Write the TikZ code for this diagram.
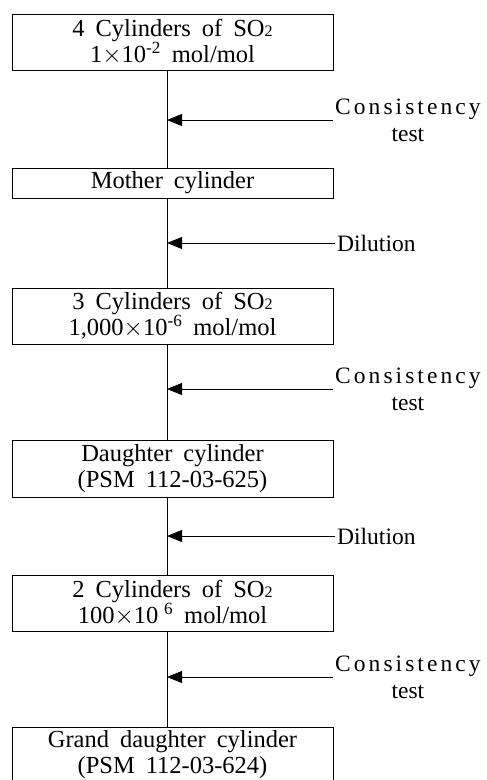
\documentclass[tikz,border=0pt]{standalone}
\usepackage{fontspec}
\setmainfont{Liberation Serif}[WordSpace=1.8]
\newfontfamily\spacedfont{Liberation Serif}[LetterSpace=13]
\newcommand{\lowtwo}{{\fontsize{16}{16}\selectfont 2}}
\usetikzlibrary{arrows.meta}
\tikzset{
	cylbox/.style = {draw, rectangle, minimum width=321pt, align=center, inner sep=0pt, line width=0.8pt, font=\fontsize{24.5}{26}\selectfont},
	feed/.style = {-{Triangle[length=15pt,width=12pt]}, line width=0.8pt},
	steplabel/.style = {anchor=west, align=center, inner ysep=0pt, inner xsep=2pt, font=\fontsize{23.5}{27}\selectfont}
}
\begin{document}
\begin{tikzpicture}[x=1pt, y=-1pt]
	\clip (0,0) rectangle (487,780);
	\coordinate (spine) at (167,0);
	% cylinders
	\node (C4) at (172.5, 42)	[cylbox, minimum height=56pt]	{4 Cylinders of SO\lowtwo\\1$\times$10\textsuperscript{-2} mol/mol};
	\node (MC) at (172.5, 183)	[cylbox, minimum height=30pt]	{Mother cylinder};
	\node (C3) at (172.5, 316)	[cylbox, minimum height=56pt]	{3 Cylinders of SO\lowtwo\\1,000$\times$10\textsuperscript{-6} mol/mol};
	\node (DC) at (172.5, 468.5)	[cylbox, minimum height=57pt]	{Daughter cylinder\\(PSM 112-03-625)};
	\node (C2) at (172.5, 603)	[cylbox, minimum height=56pt]	{2 Cylinders of SO\lowtwo\\100$\times$10\textsuperscript{\phantom{-}6} mol/mol};
	\node (GC) at (172.5, 755)	[cylbox, minimum height=56pt]	{Grand daughter cylinder\\(PSM 112-03-624)};
	% steps
	\node (T1) at (333, 120)	[steplabel]	{{\spacedfont Consistency}\\test};
	\node (D1) at (335, 243)	[steplabel]	{Dilution};
	\node (T2) at (333, 389)	[steplabel]	{{\spacedfont Consistency}\\test};
	\node (D2) at (335, 536)	[steplabel]	{Dilution};
	\node (T3) at (333, 677)	[steplabel]	{{\spacedfont Consistency}\\test};
	\draw (C4.south -| spine) -- (MC.north -| spine);
	\draw (MC.south -| spine) -- (C3.north -| spine);
	\draw (C3.south -| spine) -- (DC.north -| spine);
	\draw (DC.south -| spine) -- (C2.north -| spine);
	\draw (C2.south -| spine) -- (GC.north -| spine);
	\draw[feed] (T1.west) -- (T1.west -| spine);
	\draw[feed] (D1.west) -- (D1.west -| spine);
	\draw[feed] (T2.west) -- (T2.west -| spine);
	\draw[feed] (D2.west) -- (D2.west -| spine);
	\draw[feed] (T3.west) -- (T3.west -| spine);
\end{tikzpicture}
\end{document}
